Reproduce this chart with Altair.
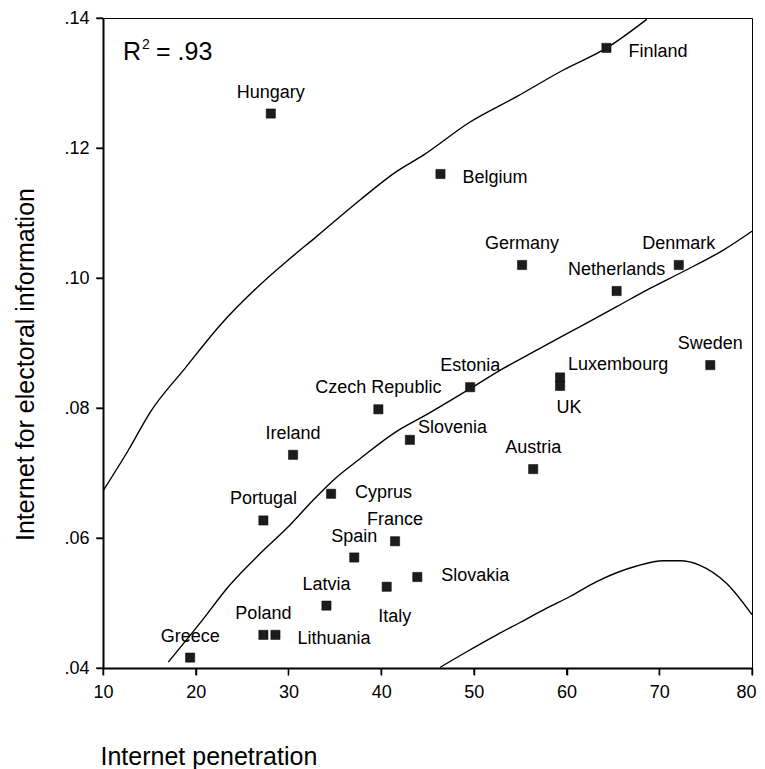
import altair as alt
import pandas as pd

# ---------------- data ----------------
countries = ["Finland", "Hungary", "Belgium", "Germany", "Denmark", "Netherlands",
             "Sweden", "Luxembourg", "UK", "Estonia", "Czech Republic", "Slovenia",
             "Ireland", "Austria", "Cyprus", "Portugal", "France", "Spain", "Italy",
             "Slovakia", "Latvia", "Poland", "Lithuania", "Greece"]
penetration = [64.3, 28.1, 46.4, 55.2, 72.1, 65.4, 75.5, 59.3, 59.3, 49.6, 39.7, 43.1,
               30.5, 56.4, 34.6, 27.3, 41.5, 37.1, 40.6, 43.9, 34.1, 27.3, 28.6, 19.4]
e_info = [.1354, .1253, .1160, .1020, .1020, .0980, .0866, .0847, .0834, .0832, .0798,
          .0751, .0728, .0706, .0668, .0627, .0595, .0570, .0525, .0540, .0496, .0451,
          .0451, .0416]
label_side = ["right", "top", "right", "top", "top", "top", "top", "upright", "below",
              "top", "top", "upright", "top", "top", "right_mid", "top", "top", "top",
              "below_far", "right_mid", "top", "top", "right", "top"]

fit_x = [17.04, 20.46, 23.70, 26.94, 30.17, 32.65, 34.84, 37.72, 41.68, 44.55, 49.62,
         53.18, 56.78, 61.81, 65.41, 69.00, 72.59, 76.91, 80.0]
fit_y = [.0409, .0469, .0528, .0576, .0620, .0658, .0689, .0722, .0764, .0787, .0830,
         .0861, .0889, .0928, .0956, .0984, .1010, .1043, .1072]

upper_x = [10.03, 12.73, 15.07, 18.84, 22.80, 27.12, 30.17, 33.05, 37.72, 41.68, 44.55,
           49.59, 54.62, 59.65, 64.33, 68.65]
upper_y = [.0673, .0735, .0793, .0861, .0930, .0992, .1030, .1064, .1120, .1164, .1189,
           .1240, .1279, .1320, .1354, .1398]

lower_x = [46.35, 49.23, 52.47, 54.98, 57.86, 60.37, 63.25, 67.57, 70.44, 72.24, 74.39,
           77.27, 80.0]
lower_y = [.0401, .0425, .0451, .0470, .0492, .0510, .0533, .0557, .0565, .0565, .0558,
           .0530, .0482]

x_ticks = [10, 20, 30, 40, 50, 60, 70, 80]
y_ticks = [.04, .06, .08, .10, .12, .14]
r2_parts = ["R", "2", "= .93"]

# ---------------- tables ----------------
pts = pd.DataFrame({"country": countries, "pen": penetration, "info": e_info,
                    "side": label_side})

rows = []
for name, xs, ys in [("fit", fit_x, fit_y), ("upper", upper_x, upper_y),
                     ("lower", lower_x, lower_y)]:
    for i, (a, b) in enumerate(zip(xs, ys)):
        rows.append({"curve": name, "i": i, "pen": a, "info": b})
curves = pd.DataFrame(rows)

FONT = "Liberation Sans"
H = 650
last_x = x_ticks[-1]

xscale = alt.Scale(domain=[10, 80], nice=False, zero=False)
yscale = alt.Scale(domain=[0.04, 0.14], nice=False, zero=False)

x_axis = alt.Axis(values=x_ticks, format="d", grid=False, ticks=True, tickSize=7,
                  tickWidth=1.5, tickColor="black", domainColor="black", domainWidth=2,
                  labelFont=FONT, labelFontSize=18, labelColor="black", labelPadding=8,
                  labelFlush=False,
                  labelAlign={"condition": {"test": f"datum.value == {last_x}",
                                            "value": "right"}, "value": "center"},
                  labelOffset={"condition": {"test": f"datum.value == {last_x}",
                                             "value": 4}, "value": 0},
                  title="Internet penetration", titleFont=FONT, titleFontSize=25,
                  titleFontWeight="normal", titleColor="black", titleX=-3, titleY=96,
                  titleAlign="left", titleBaseline="alphabetic", titleAnchor="start")
y_axis = alt.Axis(values=y_ticks, labelExpr="substring(format(datum.value, '.2f'), 1)",
                  grid=False, ticks=True, tickSize=7, tickWidth=1.5, tickColor="black",
                  domainColor="black", domainWidth=2, labelFont=FONT, labelFontSize=18,
                  labelColor="black", labelPadding=7, labelFlush=False,
                  title="Internet for electoral information", titleFont=FONT,
                  titleFontSize=25, titleFontWeight="normal", titleColor="black",
                  titleAngle=270, titleX=-70, titleY=346, titleAlign="center",
                  titleBaseline="alphabetic")

lines = alt.Chart(curves).mark_line(color="black", strokeWidth=1.4,
                                    interpolate="monotone").encode(
    x=alt.X("pen:Q", scale=xscale, axis=x_axis),
    y=alt.Y("info:Q", scale=yscale, axis=y_axis),
    detail="curve:N",
    order="i:Q",
)

# tick marks as small filled symbols just outside the plot frame
VBAR = "M-0.15,-1H0.15V1H-0.15Z"
HBAR = "M-1,-0.15H1V0.15H-1Z"
xt = alt.Chart(pd.DataFrame({"v": x_ticks})).mark_point(
    shape=VBAR, size=49, filled=True, color="black", opacity=1, clip=False).encode(
    x=alt.X("v:Q", scale=xscale), y=alt.value(H + 3.5))
yt = alt.Chart(pd.DataFrame({"v": y_ticks})).mark_point(
    shape=HBAR, size=49, filled=True, color="black", opacity=1, clip=False).encode(
    y=alt.Y("v:Q", scale=yscale), x=alt.value(-3.5))

points = alt.Chart(pts).mark_square(size=85, color="#1c1c1c", opacity=1,
                                     stroke="black", strokeWidth=0.5).encode(
    x=alt.X("pen:Q", scale=xscale),
    y=alt.Y("info:Q", scale=yscale),
)

side_style = {
    "top": dict(dx=0, dy=-16, align="center"),
    "right": dict(dx=22, dy=9, align="left"),
    "right_mid": dict(dx=24, dy=4, align="left"),
    "upright": dict(dx=8, dy=-7, align="left"),
    "below": dict(dx=9, dy=27, align="center"),
    "below_far": dict(dx=8, dy=35, align="center"),
}

label_layers = []
for side, st in side_style.items():
    label_layers.append(
        alt.Chart(pts).transform_filter(alt.datum.side == side).mark_text(
            font=FONT, fontSize=18, color="black", baseline="alphabetic", **st
        ).encode(
            x=alt.X("pen:Q", scale=xscale),
            y=alt.Y("info:Q", scale=yscale),
            text="country:N",
        )
    )

# R-squared annotation (R, superscript 2, "= .93")
r2_layers = [
    alt.Chart(pd.DataFrame({"t": [r2_parts[0]]})).mark_text(
        font=FONT, fontSize=25, color="black", align="left", baseline="alphabetic"
    ).encode(x=alt.value(20), y=alt.value(42), text="t:N"),
    alt.Chart(pd.DataFrame({"t": [r2_parts[1]]})).mark_text(
        font=FONT, fontSize=14, color="black", align="left", baseline="alphabetic"
    ).encode(x=alt.value(39), y=alt.value(31), text="t:N"),
    alt.Chart(pd.DataFrame({"t": [r2_parts[2]]})).mark_text(
        font=FONT, fontSize=25, color="black", align="left", baseline="alphabetic"
    ).encode(x=alt.value(53), y=alt.value(42), text="t:N"),
]

chart = alt.layer(lines, xt, yt, points, *label_layers, *r2_layers).properties(
    width=649, height=H,
    autosize=alt.AutoSizeParams(type="none"),
    padding={"left": 95, "top": 10, "right": 5, "bottom": 102},
).configure_view(stroke="black", strokeWidth=1)

chart.save("out.html", embed_options={"renderer": "svg", "actions": False})
